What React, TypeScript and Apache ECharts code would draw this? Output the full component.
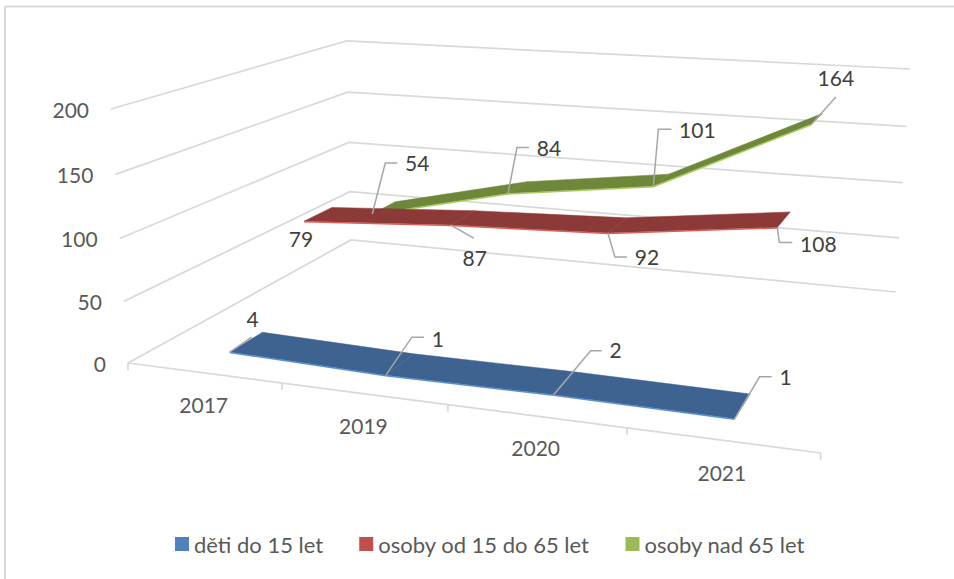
import React, { useEffect, useRef } from "react";
import * as echarts from "echarts";

const years = ["2017", "2019", "2020", "2021"];
const valueTicks = [0, 50, 100, 150, 200];
const deti = [4, 1, 2, 1];
const stredni = [79, 87, 92, 108];
const starsi = [54, 84, 101, 164];
const seriesNames = ["děti do 15 let", "osoby od 15 do 65 let", "osoby nad 65 let"];
const seriesValues = [deti, stredni, starsi];

const W = 954, H = 579;
const FONT = "Lato, Carlito, sans-serif";
const legendColors = ["#4f81bd", "#c0504d", "#9bbb59"];
const topColors = ["#3e6390", "#8c3a38", "#6f873a"];
const edgeColors = ["#5b8fd0", "#d8605c", "#a9cc5e"];
const GRID = "#d9d9d9";

// perspective box: screen corners of the floor and of the plane at the axis maximum
type Pt = [number, number];
const floorQuad: Pt[] = [[128, 363], [820.7, 453], [895.7, 292], [351, 240]];
const topQuad: Pt[] = [[111, 109], [836.3, 158.5], [910, 69], [346.5, 41]];
const depthBands: Pt[] = [[0.1, 0.233], [0.43, 0.563], [0.77, 0.9]];

// leader layout relative to each point: [elbowDx, elbowDy, endDx, endDy, labelDx, labelDy]
const leaders: number[][][] = [
  [
    [22, -15, 22, -15, 23, -34],
    [26, -38, 38, -38, 52, -37],
    [37, -44, 48, -44, 62, -45],
    [25, -42, 37, -42, 51, -42],
  ],
  [
    [0, 0, 0, 0, -3, 17],
    [23, 13, 23, 13, 24, 32],
    [7, 24, 19, 24, 39, 24],
    [2, 15, 15, 15, 41, 16],
  ],
  [
    [13, -51, 25, -51, 45, -51],
    [9, -46, 21, -46, 41, -46],
    [5, -57, 18, -57, 44, -57],
    [24, -27, 24, -27, 24, -46],
  ],
];

function squareToQuad(q: Pt[]) {
  const [[x0, y0], [x1, y1], [x2, y2], [x3, y3]] = q;
  const dx1 = x1 - x2, dx2 = x3 - x2, sx = x0 - x1 + x2 - x3;
  const dy1 = y1 - y2, dy2 = y3 - y2, sy = y0 - y1 + y2 - y3;
  const det = dx1 * dy2 - dx2 * dy1;
  const g = (sx * dy2 - dx2 * sy) / det;
  const h = (dx1 * sy - sx * dy1) / det;
  const a = x1 - x0 + g * x1, b = x3 - x0 + h * x3, c = x0;
  const d = y1 - y0 + g * y1, e = y3 - y0 + h * y3, f = y0;
  return (u: number, v: number): Pt => {
    const k = g * u + h * v + 1;
    return [(a * u + b * v + c) / k, (d * u + e * v + f) / k];
  };
}
const floorMap = squareToQuad(floorQuad);
const topMap = squareToQuad(topQuad);

// u along categories, v in depth, w = 0..1 height
function project(u: number, v: number, w: number): Pt {
  const f = floorMap(u, v), t = topMap(u, v);
  const s = w * (0.96 + 0.04 * w);
  return [f[0] + (t[0] - f[0]) * s, f[1] + (t[1] - f[1]) * s];
}
const heightOf = (api: any, value: number) => (H - api.coord([0, value])[1]) / H;
const bandOf = (api: any, cat: number) => api.coord([cat, 0])[0] / W;

function ribbonSeries(s: number): any {
  const values = seriesValues[s];
  const [v0, v1] = depthBands[s];
  return {
    type: "custom",
    name: seriesNames[s],
    z: 5 + (2 - s),
    itemStyle: { color: legendColors[s] },
    encode: { x: 0, y: 1 },
    data: values.map((val, i) => [i, val]),
    renderItem: (_: any, api: any) => {
      const i = api.value(0);
      if (i >= values.length - 1) return { type: "group", children: [] };
      const ua = bandOf(api, i), ub = bandOf(api, i + 1);
      const wa = heightOf(api, values[i]), wb = heightOf(api, values[i + 1]);
      const a0 = project(ua, v0, wa), b0 = project(ub, v0, wb);
      const b1 = project(ub, v1, wb), a1 = project(ua, v1, wa);
      return {
        type: "group",
        children: [
          { type: "polygon", shape: { points: [a0, b0, b1, a1] }, style: { fill: topColors[s], stroke: topColors[s], lineWidth: 0.5 } },
          { type: "line", shape: { x1: a0[0], y1: a0[1] + 0.5, x2: b0[0], y2: b0[1] + 0.5 }, style: { stroke: edgeColors[s], lineWidth: 1.5 } },
        ],
      };
    },
  };
}

function App() {
  const ref = useRef<HTMLDivElement>(null);
  useEffect(() => {
    const chart = echarts.init(ref.current!, undefined, { renderer: "svg" });
    const frame = {
      type: "custom", silent: true, z: 1, encode: { x: 0, y: 1 },
      data: valueTicks.map((t) => [0, t]),
      renderItem: (_: any, api: any) => {
        const t = api.value(1);
        const w = heightOf(api, t);
        const a = project(0, 0, w), b = project(0, 1, w), c = project(1, 1, w);
        return {
          type: "group",
          children: [
            { type: "polyline", shape: { points: [a, b, c] }, style: { stroke: GRID, lineWidth: 1.75, fill: "none" } },
            { type: "text", style: { text: String(t), x: a[0] - 22, y: a[1], align: "right", verticalAlign: "middle", fill: "#595959", font: `21px ${FONT}` } },
          ],
        };
      },
    };
    const floorAxis = {
      type: "custom", silent: true, z: 1, encode: { x: 0, y: 1 },
      data: years.map((_, i) => [i, 0]),
      renderItem: (_: any, api: any) => {
        const i = api.value(0);
        const n = years.length;
        const l = project(i / n, 0, 0), r = project((i + 1) / n, 0, 0);
        const c = project(bandOf(api, i), 0, 0);
        const children: any[] = [
          { type: "line", shape: { x1: l[0], y1: l[1], x2: r[0], y2: r[1] }, style: { stroke: GRID, lineWidth: 1.75 } },
          { type: "line", shape: { x1: r[0], y1: r[1], x2: r[0], y2: r[1] + 7 }, style: { stroke: GRID, lineWidth: 1.75 } },
          { type: "text", style: { text: years[i], x: c[0], y: c[1] + 32, align: "center", verticalAlign: "middle", fill: "#595959", font: `21px ${FONT}` } },
        ];
        if (i === 0) children.push({ type: "line", shape: { x1: l[0], y1: l[1], x2: l[0], y2: l[1] + 7 }, style: { stroke: GRID, lineWidth: 1.75 } });
        return { type: "group", children };
      },
    };
    const labelData: number[][] = [];
    seriesValues.forEach((vals, s) => vals.forEach((val, i) => labelData.push([i, val, s])));
    const labels = {
      type: "custom", silent: true, z: 20, encode: { x: 0, y: 1 },
      data: labelData,
      renderItem: (_: any, api: any) => {
        const i = api.value(0), val = api.value(1), s = api.value(2);
        const p = project(bandOf(api, i), depthBands[s][0], heightOf(api, val));
        const [ex, ey, fx, fy, lx, ly] = leaders[s][i];
        const children: any[] = [
          { type: "text", style: { text: String(val), x: p[0] + lx, y: p[1] + ly, align: "center", verticalAlign: "middle", fill: "#404040", font: `21px ${FONT}` } },
        ];
        if (ex !== 0 || ey !== 0) {
          children.push({ type: "polyline", shape: { points: [p, [p[0] + ex, p[1] + ey], [p[0] + fx, p[1] + fy]] }, style: { stroke: "#a6a6a6", lineWidth: 1.5, fill: "none" } });
        }
        return { type: "group", children };
      },
    };
    chart.setOption({
      animation: false,
      backgroundColor: "#ffffff",
      grid: { left: 0, right: 0, top: 0, bottom: 0 },
      xAxis: { type: "category", data: years, show: false },
      yAxis: { type: "value", min: 0, max: 200, interval: 50, show: false },
      legend: {
        left: 175, top: 533, padding: 0, itemWidth: 14, itemHeight: 14, itemGap: 36, icon: "rect",
        textStyle: { color: "#595959", fontFamily: FONT, fontSize: 22 },
        data: seriesNames.map((name, i) => ({ name, itemStyle: { color: legendColors[i] } })),
      },
      graphic: [
        { type: "line", silent: true, shape: { x1: 5, y1: 6.5, x2: 954, y2: 6.5 }, style: { stroke: GRID, lineWidth: 2 } },
        { type: "line", silent: true, shape: { x1: 5, y1: 6.5, x2: 5, y2: 579 }, style: { stroke: GRID, lineWidth: 2 } },
      ],
      series: [frame, floorAxis, ribbonSeries(0), ribbonSeries(1), ribbonSeries(2), labels],
    });
    return () => chart.dispose();
  }, []);
  return <div ref={ref} style={{ position: "absolute", left: 0, top: 0, width: W, height: H }} />;
}

export default App;
